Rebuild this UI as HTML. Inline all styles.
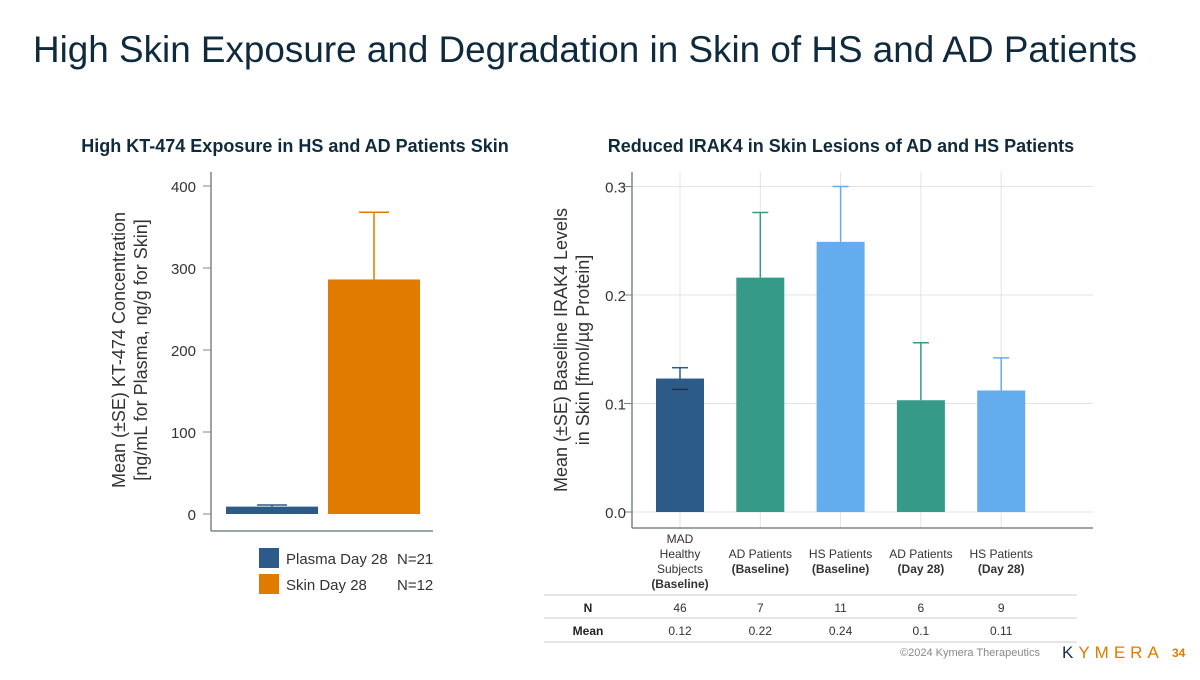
<!DOCTYPE html>
<html><head><meta charset="utf-8"><style>
body{margin:0;width:1200px;height:675px;background:#fff;overflow:hidden;font-family:"Liberation Sans",sans-serif;}
svg text{font-family:"Liberation Sans",sans-serif;}
</style></head><body>
<svg id="s" width="1200" height="675">
<text x="33" y="62" font-size="37" fill="#0f2a3d" textLength="1104" lengthAdjust="spacingAndGlyphs">High Skin Exposure and Degradation in Skin of HS and AD Patients</text>
<text x="295" y="152" font-size="18" font-weight="bold" fill="#0f2a3d" text-anchor="middle">High KT-474 Exposure in HS and AD Patients Skin</text>
<text x="841" y="152" font-size="18" font-weight="bold" fill="#0f2a3d" text-anchor="middle">Reduced IRAK4 in Skin Lesions of AD and HS Patients</text>
<g id="left"></g>
<g id="right"></g>
<text x="1040" y="656" font-size="11" fill="#888" text-anchor="end">©2024 Kymera Therapeutics</text>
<text x="1062" y="658" font-size="17" fill="#1b2e44" letter-spacing="5">K<tspan fill="#e07b00">YMERA</tspan></text>
<text x="1172" y="657" font-size="12" font-weight="bold" fill="#e07b00">34</text>
</svg>
<script>
const NS="http://www.w3.org/2000/svg";
function mk(p,t,a){const e=document.createElementNS(NS,t);for(const k in a)e.setAttribute(k,a[k]);p.appendChild(e);return e;}
// Left chart data
const leftCats=["Plasma Day 28","Skin Day 28"];
const leftVals=[9,286];
const leftErr=[11,368];
const leftN=["N=21","N=12"];
const leftTicks=[0,100,200,300,400];
// Right chart data
const rightCats=[["MAD","Healthy","Subjects","(Baseline)"],["AD Patients","(Baseline)"],["HS Patients","(Baseline)"],["AD Patients","(Day 28)"],["HS Patients","(Day 28)"]];
const rightVals=[0.123,0.216,0.249,0.103,0.112];
const rightErrUp=[0.133,0.276,0.300,0.156,0.142];
const rightErrLo=[0.113,null,null,null,null];
const rightN=["46","7","11","6","9"];
const rightMean=["0.12","0.22","0.24","0.1","0.11"];
const rightTicks=[0.0,0.1,0.2,0.3];

const L=document.getElementById('left');
const ly=v=>514-v*0.82;
const lColors=["#2c5b8a","#e07b00"];
let t=mk(L,'line',{x1:211,y1:172,x2:211,y2:531,stroke:'#7a8590','stroke-width':1.5});

t=mk(L,'line',{x1:211,y1:531,x2:433,y2:531,stroke:'#7a8590','stroke-width':1.5});

leftTicks.forEach(v=>{
 mk(L,'line',{x1:203,y1:ly(v),x2:211,y2:ly(v),stroke:'#7a8590'});
 const tx=mk(L,'text',{x:196,y:ly(v)+6,'font-size':15,fill:'#333','text-anchor':'end'});tx.textContent=v;
 
});
const lx=[226,328];
leftVals.forEach((v,i)=>{
 const cx=lx[i]+46;
 const e=mk(L,'line',{x1:cx,y1:ly(v),x2:cx,y2:ly(leftErr[i]),stroke:lColors[i],'stroke-width':1.5});
 
 mk(L,'line',{x1:cx-15,y1:ly(leftErr[i]),x2:cx+15,y2:ly(leftErr[i]),stroke:lColors[i],'stroke-width':1.5});
 const b=mk(L,'rect',{x:lx[i],y:ly(v),width:92,height:514-ly(v),fill:lColors[i]});
 
 const sw=mk(L,'rect',{x:259,y:548+i*26,width:20,height:20,fill:lColors[i]});
 
 const lt=mk(L,'text',{x:286,y:564+i*26,'font-size':15,fill:'#333'});lt.textContent=leftCats[i];
 
 const ln=mk(L,'text',{x:397,y:564+i*26,'font-size':15,fill:'#333'});ln.textContent=leftN[i];
 
});
t=mk(L,'text',{transform:'translate(125,350) rotate(-90)','font-size':18,fill:'#333','text-anchor':'middle'});t.textContent='Mean (±SE) KT-474 Concentration';

t=mk(L,'text',{transform:'translate(147,350) rotate(-90)','font-size':18,fill:'#333','text-anchor':'middle'});t.textContent='[ng/mL for Plasma, ng/g for Skin]';


const R=document.getElementById('right');
const ry=v=>512-v*1085;
const rx=i=>680+i*80.3;
const rColors=["#2c5b8a","#359a88","#63adef","#359a88","#63adef"];
rightTicks.forEach(v=>{
 mk(R,'line',{x1:632,y1:ry(v),x2:1093,y2:ry(v),stroke:'#e3e3e3'});
 mk(R,'line',{x1:624,y1:ry(v),x2:632,y2:ry(v),stroke:'#7a8590'});
 const tx=mk(R,'text',{x:626,y:ry(v)+6,'font-size':15,fill:'#333','text-anchor':'end'});tx.textContent=v.toFixed(1);
 
});
rightVals.forEach((v,i)=>mk(R,'line',{x1:rx(i),y1:172,x2:rx(i),y2:528,stroke:'#e3e3e3'}));
t=mk(R,'line',{x1:632,y1:172,x2:632,y2:528,stroke:'#7a8590','stroke-width':1.5});

t=mk(R,'line',{x1:632,y1:528,x2:1093,y2:528,stroke:'#7a8590','stroke-width':1.5});

rightVals.forEach((v,i)=>{
 const cx=rx(i);
 const e=mk(R,'line',{x1:cx,y1:ry(v),x2:cx,y2:ry(rightErrUp[i]),stroke:rColors[i],'stroke-width':1.5});
 
 mk(R,'line',{x1:cx-8,y1:ry(rightErrUp[i]),x2:cx+8,y2:ry(rightErrUp[i]),stroke:rColors[i],'stroke-width':1.5});
 const b=mk(R,'rect',{x:cx-24,y:ry(v),width:48,height:512-ry(v),fill:rColors[i]});
 
 if(rightErrLo[i]!==null){
  mk(R,'line',{x1:cx-8,y1:ry(rightErrLo[i]),x2:cx+8,y2:ry(rightErrLo[i]),stroke:'#1b2e44','stroke-width':1.5});}
 const lines=rightCats[i];const y0=lines.length===4?543:558;
 lines.forEach((s,j)=>{const tx=mk(R,'text',{x:cx,y:y0+j*15,'font-size':12,fill:'#333','text-anchor':'middle','font-weight':s.startsWith('(')?'bold':'normal'});tx.textContent=s;
  });
 const n=mk(R,'text',{x:cx,y:612,'font-size':12,fill:'#333','text-anchor':'middle'});n.textContent=rightN[i];
 
 const m=mk(R,'text',{x:cx,y:635,'font-size':12,fill:'#333','text-anchor':'middle'});m.textContent=rightMean[i];
 
});
[595,618,642].forEach(y=>mk(R,'line',{x1:544,y1:y,x2:1077,y2:y,stroke:'#ccc'}));
t=mk(R,'text',{x:588,y:612,'font-size':12,'font-weight':'bold',fill:'#222','text-anchor':'middle'});t.textContent='N';

t=mk(R,'text',{x:588,y:635,'font-size':12,'font-weight':'bold',fill:'#222','text-anchor':'middle'});t.textContent='Mean';

t=mk(R,'text',{transform:'translate(567,350) rotate(-90)','font-size':18,fill:'#333','text-anchor':'middle'});t.textContent='Mean (±SE) Baseline IRAK4 Levels';

t=mk(R,'text',{transform:'translate(589,350) rotate(-90)','font-size':18,fill:'#333','text-anchor':'middle'});t.textContent='in Skin  [fmol/µg Protein]';

</script>
</body></html>
